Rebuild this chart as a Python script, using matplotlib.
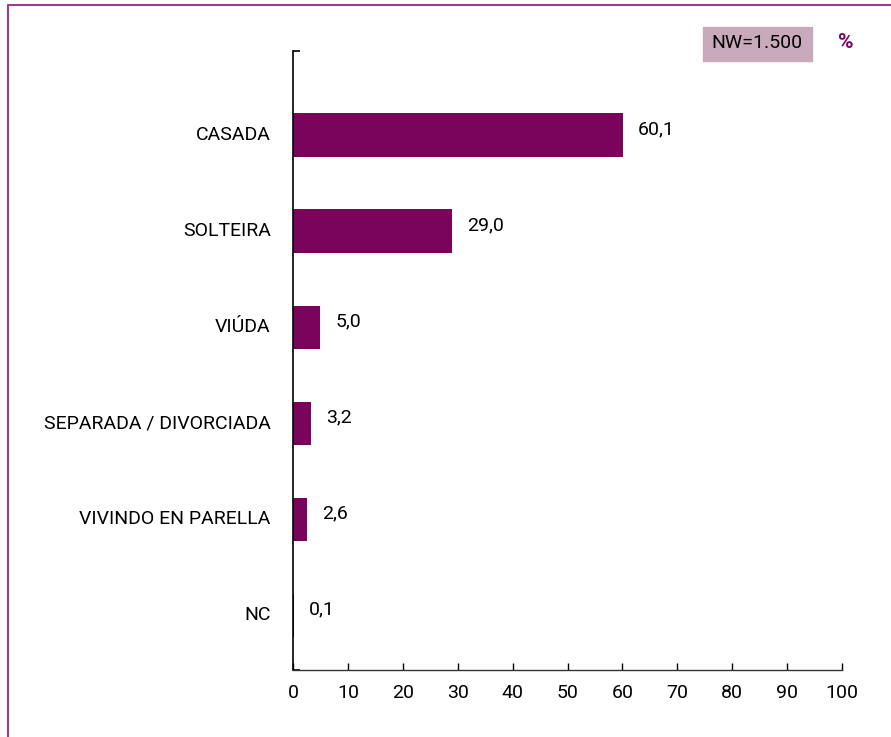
import matplotlib
matplotlib.use("Agg")
from matplotlib import pyplot as plt
from matplotlib.patches import Rectangle
from matplotlib.lines import Line2D

plt.rcParams['font.family'] = ['Roboto', 'DejaVu Sans']

categorias = ["CASADA", "SOLTEIRA", "VIÚDA", "SEPARADA / DIVORCIADA",
              "VIVINDO EN PARELLA", "NC"]
valores = [60.1, 29.0, 5.0, 3.2, 2.6, 0.1]
etiquetas = ["60,1", "29,0", "5,0", "3,2", "2,6", "0,1"]
xticks = [0, 10, 20, 30, 40, 50, 60, 70, 80, 90, 100]

morado = "#7a045c"

fig = plt.figure(figsize=(8.91, 7.37), dpi=100)
ax = fig.add_axes([293/891, 67/737, 549/891, 619/737])

n = len(categorias)
pos = [n - 1 - i for i in range(n)]
ax.barh(pos, valores, height=0.45, color=morado)

for p, v, e in zip(pos, valores, etiquetas):
    ax.annotate(e, xy=(v, p), xytext=(11, 4), textcoords="offset points",
                va="center", ha="left", fontsize=14)

ax.set_xlim(0, 100)
ax.set_ylim(-0.57, n - 1 + 0.875)
ax.set_xticks(xticks)
ax.set_xticklabels([str(t) for t in xticks], fontsize=14)
ax.tick_params(axis="x", direction="in", length=5, width=1, pad=10)
ax.set_yticks(pos)
ax.set_yticklabels(categorias, fontsize=14, va="center")
ax.tick_params(axis="y", which="major", length=0, pad=16)
ax.set_yticks([-0.57, n - 1 + 0.875], minor=True)
ax.tick_params(axis="y", which="minor", direction="in", length=5, width=1.2)
ax.spines["top"].set_visible(False)
ax.spines["right"].set_visible(False)
ax.spines["left"].set_linewidth(1.2)
ax.spines["bottom"].set_linewidth(1)
ax.spines["bottom"].set_color("#333333")

# caixa NW
fig.patches.append(Rectangle((703/891, 1 - 61/737), 109/891, 34/737,
                             transform=fig.transFigure, color="#c9a9bc"))
fig.text(757/891, 1 - 43/737, "NW=1.500", ha="center", va="center", fontsize=14)
fig.text(846/891, 1 - 42/737, "%", ha="center", va="center", fontsize=15,
         fontweight="bold", color=morado)

# marco
fig.lines.append(Line2D([8/891, 8/891, 1], [0, 1 - 5/737, 1 - 5/737],
                        transform=fig.transFigure, color="#9b3d8a", lw=1.5))

fig.savefig("out.png", dpi=100)
